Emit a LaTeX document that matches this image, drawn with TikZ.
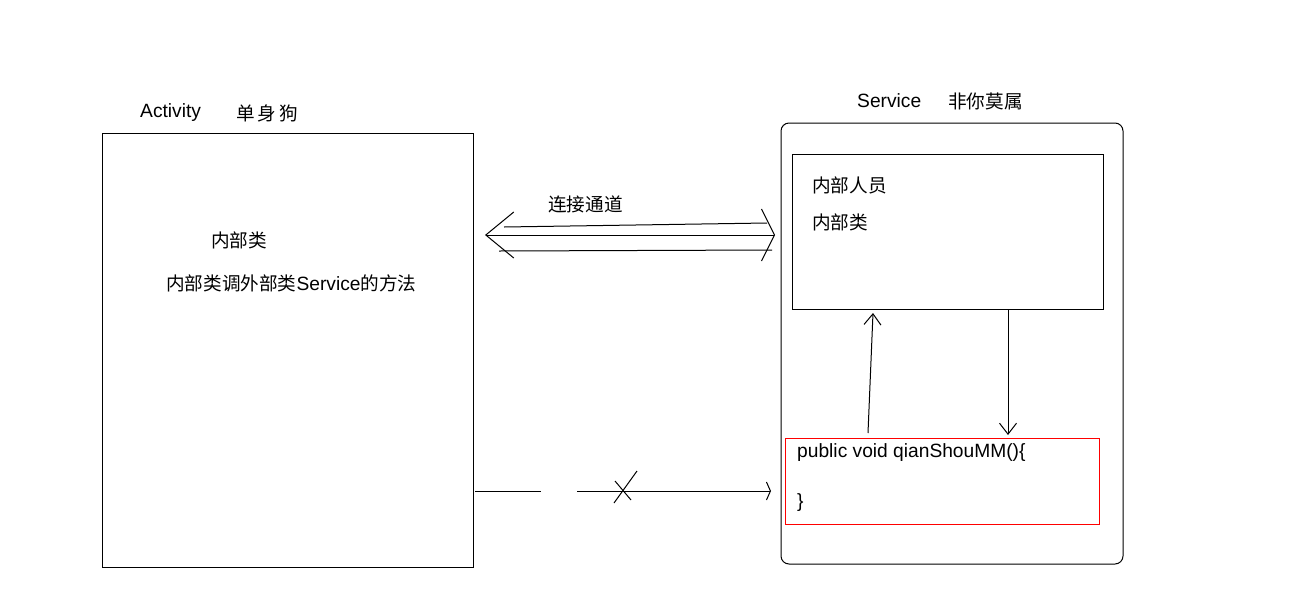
\documentclass[tikz,border=0pt]{standalone}
\usepackage{fontspec}
\setmainfont{Liberation Sans}
\newfontfamily\cjk[Scale=0.97]{Noto Sans CJK SC}
\usetikzlibrary{arrows.meta,positioning}

\begin{document}
\begin{tikzpicture}
[
                     x =  1pt,
                     y = -1pt,
                  font = \fontsize{19.2}{23}\selectfont,
                   box/.style = { draw=black, rectangle, line width=1pt, inner sep=0pt },
               redbox/.style = { draw=red, rectangle, line width=1pt, inner sep=0pt },
                  txt/.style = { draw=none, fill=none, anchor=west, inner sep=0pt },
                 wire/.style = { draw=black, line width=1pt },
                 barb/.style = { -{Straight Barb[length=11pt,width=17pt,line width=1pt]} }
]
	\useasboundingbox (0,0) rectangle (1291,606);

	% Activity side
	\node (act)     at (287.5, 350  ) [box, minimum width=371, minimum height=434] {};
	\node (actl)    at (140  , 113  ) [txt] {Activity};
	\node (actn)    at (236  , 113  ) [txt] {\cjk 单\,身\,狗};
	\node (inner1)  at (211  , 240  ) [txt] {\cjk 内部类};
	\node (inner2)  at (166  , 283  ) [txt] {{\cjk 内部类调外部类}Service{\cjk 的方法}};

	% Service side
	\node (srv)     at (952  , 343.5) [box, rounded corners=8pt, minimum width=342, minimum height=441] {};
	\node (srvl)    at (857  , 101  ) [txt] {Service};
	\node (srvn)    at (948  , 101  ) [txt] {\cjk 非你莫属};
	\node (mem)     at (947.5, 231.5) [box, minimum width=311, minimum height=155] {};
	\node (meml1)   at (812  , 185  ) [txt] {\cjk 内部人员};
	\node (meml2)   at (812  , 222  ) [txt] {\cjk 内部类};
	\node (meth)    at (942  , 481  ) [redbox, minimum width=314, minimum height=86] {};
	\node (methl1)  at (797  , 453  ) [txt] {public void qianShouMM()\{};
	\node (methl2)  at (797  , 503  ) [txt] {\}};

	% link channel
	\node (linkl)   at (548  , 204  ) [txt] {\cjk 连接通道};
	\coordinate (chL)  at (485, 235);	\coordinate (chR)  at (775, 235);
	\coordinate (chT0) at (504, 227);	\coordinate (chT1) at (767, 223);
	\coordinate (chB0) at (499, 251);	\coordinate (chB1) at (772, 250);

	\draw[wire, {Straight Barb[length=28pt,width=46pt,line width=1pt]}-{Straight Barb[length=13pt,width=52pt,line width=1pt]}] (chL) -- (chR);
	\draw[wire] (chT0) -- (chT1);
	\draw[wire] (chB0) -- (chB1);

	% calls inside the service
	\coordinate (up0) at (868, 433);	\coordinate (up1) at (873, 313);
	\coordinate (dn0) at (1008, 309);	\coordinate (dn1) at (1008, 435);
	\draw[wire, barb] (up0) -- (up1);
	\draw[wire, barb] (dn0) -- (dn1);

	% no direct call
	\coordinate (nc0) at (475, 491);	\coordinate (nc1) at (541, 491);
	\coordinate (nc2) at (577, 491);	\coordinate (nc3) at (771, 491);
	\coordinate (x0)  at (614, 503);	\coordinate (x1)  at (637, 471);
	\coordinate (x2)  at (615, 481);	\coordinate (x3)  at (631, 500);
	\draw[wire] (nc0) -- (nc1);
	\draw[wire, -{Straight Barb[length=4pt,width=18pt,line width=1pt]}] (nc2) -- (nc3);
	\draw[wire] (x0) -- (x1);
	\draw[wire] (x2) -- (x3);

\end{tikzpicture}
\end{document}
